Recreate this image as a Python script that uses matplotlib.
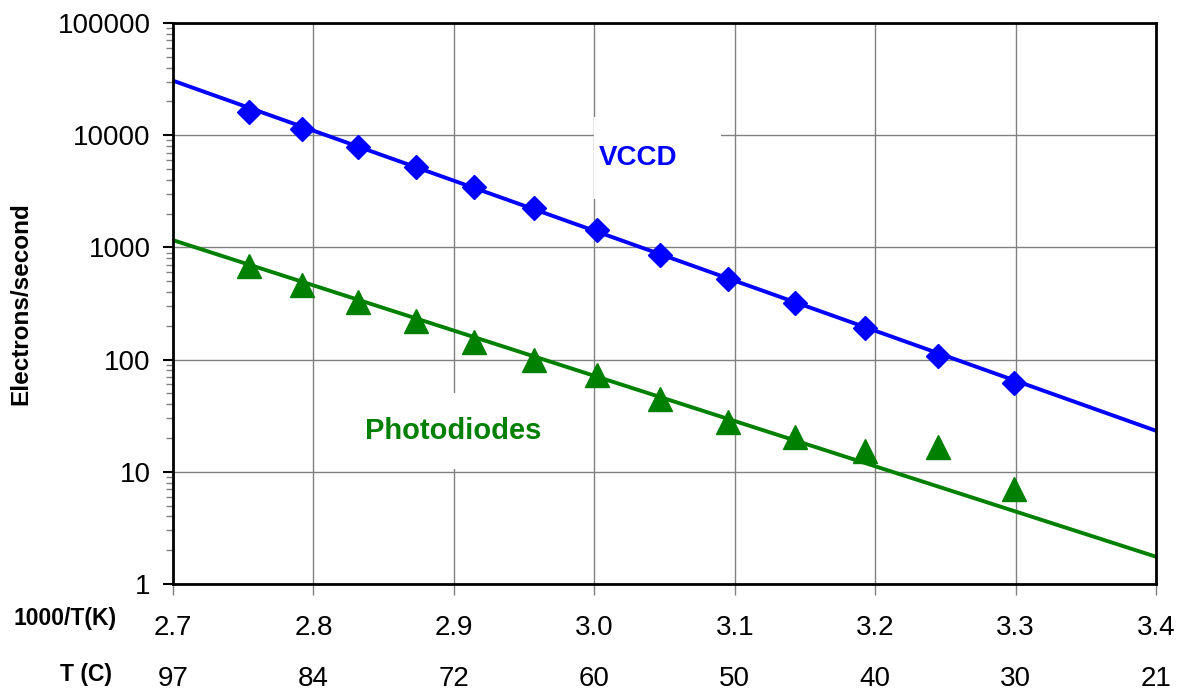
import matplotlib
matplotlib.use("Agg")
import matplotlib.pyplot as plt
from matplotlib.patches import Rectangle
from matplotlib.ticker import LogLocator, NullFormatter
from matplotlib.transforms import blended_transform_factory

plt.rcParams['font.family'] = ['Liberation Sans', 'DejaVu Sans']

# measured points (x = 1000/T in K)
inv_T = [2.754, 2.792, 2.832, 2.873, 2.914, 2.957, 3.002, 3.047, 3.095, 3.143, 3.193, 3.245, 3.299]
vccd = [16100, 11350, 7850, 5210, 3450, 2245, 1430, 855, 523, 319, 191, 108, 62]
photodiodes = [683, 462, 326, 221, 143, 99, 73, 44.5, 27.8, 20.4, 15.3, 16.8, 7.0]

# exponential trend lines, end points
trend_x = [2.7, 3.4]
vccd_fit = [30600, 23.2]
pd_fit = [1160, 1.75]

xticks = [2.7, 2.8, 2.9, 3.0, 3.1, 3.2, 3.3, 3.4]
xtick_labels = ["2.7", "2.8", "2.9", "3.0", "3.1", "3.2", "3.3", "3.4"]
temp_c = ["97", "84", "72", "60", "50", "40", "30", "21"]
yticks = [1, 10, 100, 1000, 10000, 100000]
ytick_labels = ["1", "10", "100", "1000", "10000", "100000"]

fig = plt.figure(figsize=(11.89, 6.96), dpi=100)
ax = fig.add_axes([0.1455, 0.1609, 0.8268, 0.8061])

ax.set_yscale("log")
ax.set_xlim(2.7, 3.4)
ax.set_ylim(1, 100000)
ax.set_axisbelow(True)
ax.grid(True, which="major", color="#808080", linewidth=1)

# white boxes behind the series labels
ax.add_patch(Rectangle((0.4283, 0.6863), 0.1292, 0.1462, transform=ax.transAxes,
                       facecolor="white", edgecolor="none", zorder=1))
ax.add_patch(Rectangle((0.1882, 0.205), 0.2055, 0.1355, transform=ax.transAxes,
                       facecolor="white", edgecolor="none", zorder=1))

ax.plot(trend_x, vccd_fit, color="#0000FF", linewidth=2.8, zorder=2)
ax.plot(trend_x, pd_fit, color="#008000", linewidth=2.8, zorder=2)
ax.plot(inv_T, vccd, linestyle="none", marker="D", markersize=12.5,
        color="#0000FF", zorder=3)
ax.plot(inv_T, photodiodes, linestyle="none", marker="^", markersize=17,
        color="#008000", zorder=3)

ax.text(0.433, 0.759, "VCCD", transform=ax.transAxes, color="#0000FF",
        fontsize=20, fontweight="bold", va="center", ha="left", zorder=4)
ax.text(0.285, 0.272, "Photodiodes", transform=ax.transAxes, color="#008000",
        fontsize=21, fontweight="bold", va="center", ha="center", zorder=4)

ax.set_xticks(xticks)
ax.set_xticklabels(xtick_labels, fontsize=20)
ax.set_yticks(yticks)
ax.set_yticklabels(ytick_labels, fontsize=20)
ax.yaxis.set_minor_locator(LogLocator(base=10, subs=range(2, 10)))
ax.yaxis.set_minor_formatter(NullFormatter())
ax.tick_params(axis="x", direction="out", length=8, width=1, color="#808080", pad=14)
ax.tick_params(axis="y", which="major", direction="out", length=7, width=1.5,
               color="black", pad=9)
ax.tick_params(axis="y", which="minor", direction="out", length=5, width=1,
               color="#808080")
for s in ax.spines.values():
    s.set_linewidth(2)
    s.set_color("black")

ax.set_ylabel("Electrons/second", fontsize=17.5, fontweight="bold")
ax.yaxis.set_label_coords(-0.1434, 0.5)

# second axis row: temperature in Celsius
row = blended_transform_factory(ax.transData, fig.transFigure)
for xv, lab in zip(xticks, temp_c):
    ax.text(xv, 1 - 679 / 696, lab, transform=row, fontsize=20,
            ha="center", va="center")

fig.text(117 / 1189, 1 - 619 / 696, "1000/T(K)", fontsize=16.5, fontweight="bold",
         ha="right", va="center")
fig.text(112 / 1189, 1 - 674 / 696, "T (C)", fontsize=16.5, fontweight="bold",
         ha="right", va="center")

fig.savefig("out.png", dpi=100)
